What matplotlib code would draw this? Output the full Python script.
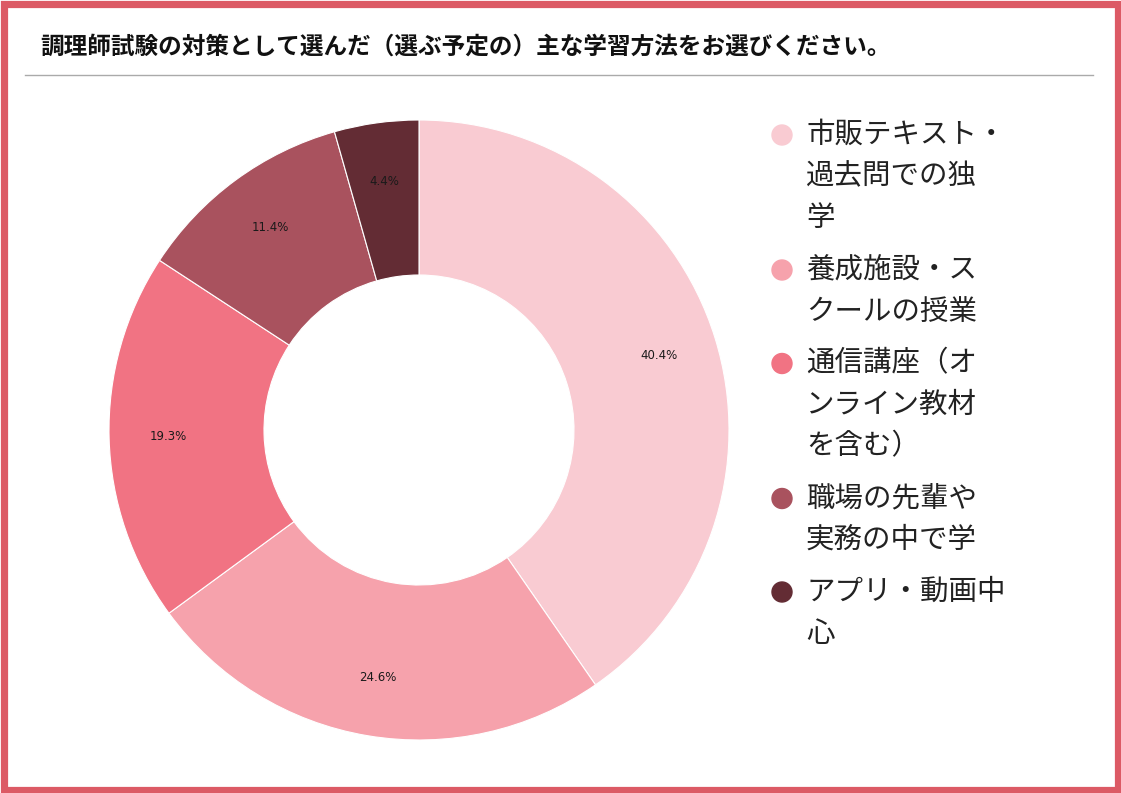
"""
Donut chart — main study methods for the cook licence exam (JP survey).
"""
import matplotlib
matplotlib.use('Agg')
import matplotlib.pyplot as plt
from matplotlib.patches import Rectangle, Ellipse
from matplotlib.lines import Line2D

plt.rcParams['font.family'] = ['Noto Sans CJK JP', 'DejaVu Sans']

TITLE = '調理師試験の対策として選んだ（選ぶ予定の）主な学習方法をお選びください。'

methods = [
    '市販テキスト・過去問での独学',
    '養成施設・スクールの授業',
    '通信講座（オンライン教材を含む）',
    '職場の先輩や実務の中で学',
    'アプリ・動画中心',
]
shares = [40.4, 24.6, 19.3, 11.4, 4.4]
legend_lines = [
    ['市販テキスト・', '過去問での独', '学'],
    ['養成施設・ス', 'クールの授業'],
    ['通信講座（オ', 'ンライン教材', 'を含む）'],
    ['職場の先輩や', '実務の中で学'],
    ['アプリ・動画中', '心'],
]
colors = ['#F9CBD2', '#F6A2AC', '#F17383', '#A9525E', '#632C34']

W, H = 1121, 793


def main():
    fig = plt.figure(figsize=(W / 100, H / 100), dpi=100)
    fig.patch.set_facecolor('white')

    # red frame
    fig.add_artist(Rectangle((3.5 / W, 3.5 / H), 1 - 7 / W, 1 - 7 / H,
                             transform=fig.transFigure, fill=False,
                             edgecolor='#DC5A65', lw=5.2))

    fig.text(40 / W, 1 - 47 / H, TITLE, fontsize=17, fontweight='bold',
             ha='left', va='center', color='#111111')
    fig.add_artist(Line2D([25 / W, 1093 / W], [1 - 75 / H, 1 - 75 / H],
                          transform=fig.transFigure, color='#AAAAAA', lw=1))

    # donut
    cx, cy, r = 419, 430, 310
    ax = fig.add_axes([(cx - r) / W, 1 - (cy + r) / H, 2 * r / W, 2 * r / H])
    wedges, _, autotexts = ax.pie(
        shares, colors=colors, startangle=90, counterclock=False,
        autopct='%1.1f%%', pctdistance=0.81,
        wedgeprops=dict(width=0.5, edgecolor='white', linewidth=0.8),
        textprops=dict(fontsize=8.5, color='#1a1a1a', family='DejaVu Sans'))
    ax.set_xlim(-1, 1)
    ax.set_ylim(-1, 1)
    ax.set_aspect('equal')
    ax.axis('off')

    # legend drawn by hand so wrapped labels line up like the original
    y = 135
    line_h, gap = 41.5, 52
    for lines, col in zip(legend_lines, colors):
        fig.add_artist(Ellipse((782 / W, 1 - y / H), 20 / W, 20 / H,
                               transform=fig.transFigure, color=col))
        for i, ln in enumerate(lines):
            fig.text(806 / W, 1 - (y + i * line_h) / H, ln, fontsize=20.5,
                     ha='left', va='center', color='#222222')
        y += (len(lines) - 1) * line_h + gap

    fig.savefig('out.png', dpi=100)
    plt.close(fig)


if __name__ == '__main__':
    main()
